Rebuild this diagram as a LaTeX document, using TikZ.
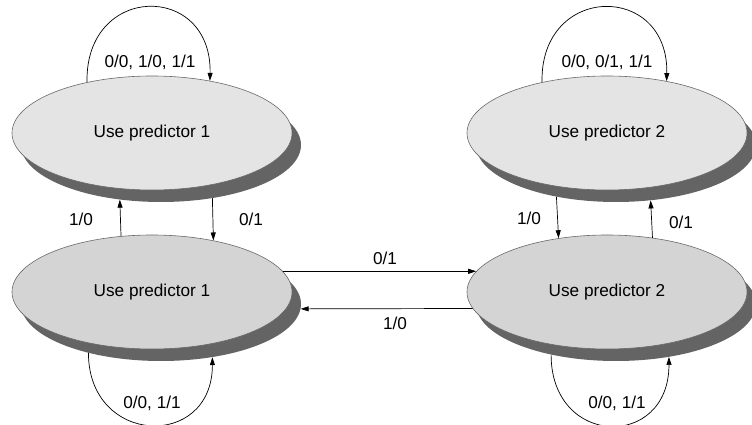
\documentclass[tikz,border=0pt]{standalone}
\usepackage{fontspec}
\setmainfont{Liberation Sans}
\usetikzlibrary{shapes.geometric,arrows.meta}
\definecolor{topfill}{RGB}{228,228,228}
\definecolor{botfill}{RGB}{212,212,212}
\definecolor{shadegray}{RGB}{100,100,100}
\definecolor{rimgray}{RGB}{105,105,105}
\begin{document}
\begin{tikzpicture}[x=1pt,y=1pt,
    predstate/.style={ellipse,draw=rimgray,line width=0.6pt,minimum width=280pt,minimum height=114pt,inner sep=0pt},
    predshade/.style={ellipse,fill=shadegray,minimum width=280pt,minimum height=114pt,inner sep=0pt},
    lbl/.style={font=\fontsize{17.2}{19}\selectfont},
    >={Triangle[length=8pt,width=5pt]}]
    \useasboundingbox (0,0) rectangle (752,425);
    \node[predshade] (T1s) at (161,280) {};
    \node[predshade] (T2s) at (616,280) {};
    \node[predshade] (B1s) at (161,121) {};
    \node[predshade] (B2s) at (616,121) {};
    \node[predstate,fill=topfill,lbl] (T1) at (152,292) {Use predictor 1};
    \node[predstate,fill=topfill,lbl] (T2) at (607,292) {Use predictor 2};
    \node[predstate,fill=botfill,lbl] (B1) at (152,133) {Use predictor 1};
    \node[predstate,fill=botfill,lbl] (B2) at (607,133) {Use predictor 2};
    \draw[black,line width=0.7pt,->] (T1.142) .. controls +(-2,99) and +(2,99) .. (T1.42);
    \draw[black,line width=0.7pt,->] (T2.142) .. controls +(-2,99) and +(2,99) .. (T2.41);
    \draw[black,line width=0.7pt,->] (B1s.214) .. controls +(0,-93) and +(0,-93) .. (B1s.314);
    \draw[black,line width=0.7pt,->] (B2s.218) .. controls +(0,-93) and +(0,-93) .. (B2s.315);
    \draw[black,line width=0.7pt,->] (B1.119) -- (T1s.233);
    \draw[black,line width=0.7pt,->] (T1s.314) -- (B1.40);
    \draw[black,line width=0.7pt,->] (T2s.221) -- (B2.132);
    \draw[black,line width=0.7pt,->] (B2.50) -- (T2s.302);
    \draw[black,line width=0.7pt,->] (B1.9) -- (B2.171);
    \draw[black,line width=0.7pt,->] (B2.187) -- (B1s.358);
    \node[lbl] (lt1) at (150,363) {0/0, 1/0, 1/1};
    \node[lbl] (lt2) at (607,363) {0/0, 0/1, 1/1};
    \node[lbl] (lb1) at (152,22) {0/0, 1/1};
    \node[lbl] (lb2) at (617,22) {0/0, 1/1};
    \node[lbl] (lup1) at (81,206) {1/0};
    \node[lbl] (ldn1) at (251,206) {0/1};
    \node[lbl] (ldn2) at (529,207) {1/0};
    \node[lbl] (lup2) at (681,203) {0/1};
    \node[lbl] (lright) at (385,167) {0/1};
    \node[lbl] (lleft) at (395,102) {1/0};
\end{tikzpicture}
\end{document}
